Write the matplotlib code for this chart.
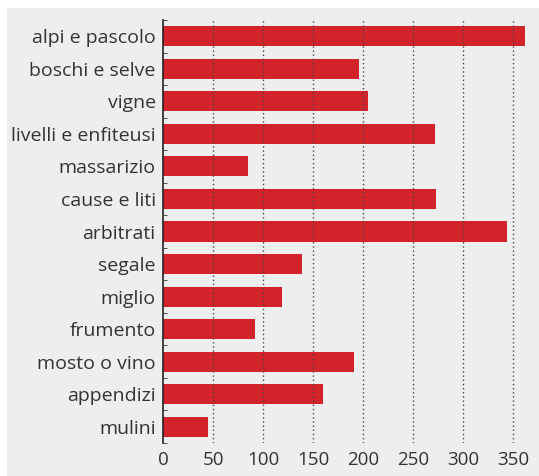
import matplotlib.pyplot as plt
from matplotlib.patches import Rectangle
import numpy as np

plt.rcParams['font.family'] = ['Open Sans', 'DejaVu Sans']

categories = ["alpi e pascolo", "boschi e selve", "vigne", "livelli e enfiteusi",
              "massarizio", "cause e liti", "arbitrati", "segale", "miglio",
              "frumento", "mosto o vino", "appendizi", "mulini"]
values = [362, 196, 205, 272, 85, 273, 344, 139, 119, 92, 191, 160, 45]
xticks = [0, 50, 100, 150, 200, 250, 300, 350]

W, H = 539, 476
fig = plt.figure(figsize=(W / 100, H / 100), dpi=100, facecolor="white")

# grey panel behind everything
bg = Rectangle((7 / W, 0), 1, 1 - 8 / H, transform=fig.transFigure,
               facecolor="#eeeeee", edgecolor="none", zorder=-10)
fig.patches.append(bg)

ax = fig.add_axes([163.3 / W, 1 - 443 / H, 1 - 163.3 / W, (443 - 20) / H])
ax.set_facecolor("none")

y = np.arange(len(categories))
ax.barh(y, values, height=0.615, color="#d2232a", zorder=2)

ax.set_ylim(len(categories) - 0.5, -0.5)
ax.set_xlim(0, 375.7)

ax.set_yticks(y)
ax.set_yticklabels(categories)
ax.set_yticks(np.arange(len(categories) + 1) - 0.5, minor=True)
ax.set_xticks(xticks)
ax.set_xticklabels([str(t) for t in xticks])

ax.tick_params(axis='y', which='major', length=0, pad=5.5, labelsize=14, labelcolor="#333333")
ax.tick_params(axis='y', which='minor', length=3, direction='in', color="#333333")
ax.tick_params(axis='x', length=0, pad=6, labelsize=13.5, labelcolor="#333333")

for s in ['top', 'right', 'bottom']:
    ax.spines[s].set_visible(False)
ax.spines['left'].set_color("#222222")
ax.spines['left'].set_linewidth(1.2)

ax.grid(axis='x', color="#444444", linestyle=(0, (1, 2)), linewidth=1.0, zorder=3)
ax.set_axisbelow(False)
for gl in ax.get_xgridlines():
    gl.set_zorder(3)
ax.get_xgridlines()[0].set_visible(False)

plt.savefig("out.png", dpi=100)
